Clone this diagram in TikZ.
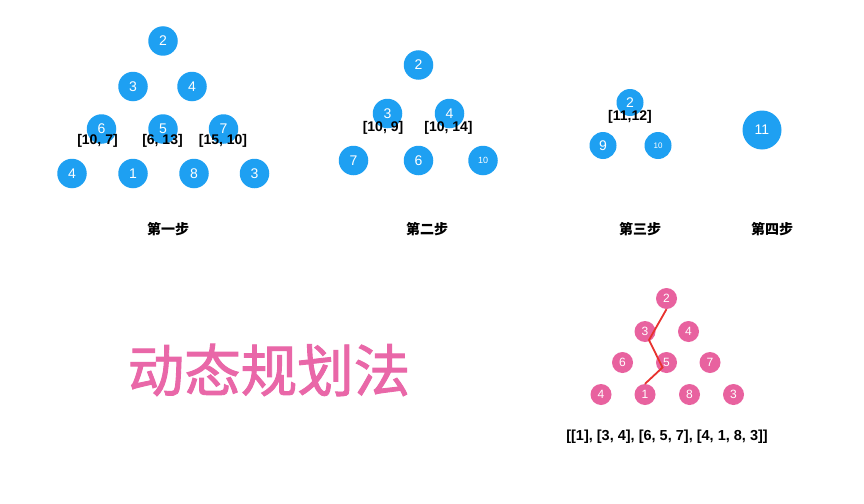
\documentclass[tikz,border=0pt]{standalone}
\usepackage{fontspec}
\setmainfont{Liberation Sans}
\newfontfamily\cjk{Noto Sans CJK SC}
\newfontfamily\cjkt[FakeBold=1.6]{Noto Sans CJK SC}
\definecolor{bblue}{HTML}{1EA0F2}
\definecolor{ppink}{HTML}{E8629F}
\definecolor{tpink}{HTML}{E967A8}
\definecolor{lred}{HTML}{E8322E}
\begin{document}
\begin{tikzpicture}[x=1pt,y=-1pt,
  bn/.style={circle,fill=bblue,draw=none,minimum size=29.5pt,inner sep=0pt,text=white,font=\fontsize{14}{14}\selectfont},
  bs/.style={bn,minimum size=27pt},
  pn/.style={circle,fill=ppink,draw=none,minimum size=21pt,inner sep=0pt,text=white,font=\fontsize{12}{12}\selectfont},
  lab/.style={font=\bfseries\fontsize{14}{14}\selectfont,inner sep=0pt},
  steplab/.style={font=\cjk\bfseries\fontsize{14}{14}\selectfont,inner sep=0pt},
  path/.style={draw=lred,line width=1.8pt}]
\useasboundingbox (0,0) rectangle (864,503);
\fill[white] (0,0) rectangle (864,503);
% panel 1
\node[bn] (a1) at (163,41) {2};
\node[bn] (a2) at (133,86.5) {3};
\node[bn] (a3) at (192,86.5) {4};
\node[bn] (a4) at (101.5,129) {6};
\node[bn] (a5) at (163,129) {5};
\node[bn] (a6) at (223.5,129) {7};
\node[bn] (a7) at (72,173.5) {4};
\node[bn] (a8) at (133,173.5) {1};
\node[bn] (a9) at (194,173.5) {8};
\node[bn] (a10) at (254.5,173.5) {3};
\node[lab] (l1) at (97.5,140.5) {[10, 7]};
\node[lab] (l2) at (162.5,140.5) {[6, 13]};
\node[lab] (l3) at (223,140.5) {[15, 10]};
\node[steplab] (s1) at (168,229) {第一步};
% panel 2
\node[bn] (b1) at (418.5,65) {2};
\node[bn] (b2) at (387.5,113.5) {3};
\node[bn] (b3) at (449.5,113.5) {4};
\node[lab] (l4) at (383,127.5) {[10, 9]};
\node[lab] (l5) at (448.5,127.5) {[10, 14]};
\node[bn] (b4) at (353.5,160.5) {7};
\node[bn] (b5) at (418.5,160.5) {6};
\node[bn,font=\fontsize{9}{9}\selectfont] (b6) at (483,160.5) {10};
\node[steplab] (s2) at (427,229) {第二步};
% panel 3
\node[bs] (c1) at (630,102.5) {2};
\node[lab] (l6) at (630,116.5) {[11,12]};
\node[bs] (c2) at (603,145.5) {9};
\node[bs,font=\fontsize{8}{8}\selectfont] (c3) at (658,145.5) {10};
\node[steplab] (s3) at (640,229) {第三步};
% panel 4
\node[bn,minimum size=39pt] (d1) at (762,130) {11};
\node[steplab] (s4) at (772,229) {第四步};
% title
\node[font=\cjkt\fontsize{56.5}{56.5}\selectfont,text=tpink,inner sep=0pt] (t) at (269,370) {动态规划法};
% pink triangle
\node[pn] (p1) at (666.5,298.5) {2};
\node[pn] (p2) at (645,331.5) {3};
\node[pn] (p3) at (688.5,331.5) {4};
\node[pn] (p4) at (622.5,362.5) {6};
\node[pn] (p5) at (666.5,362.5) {5};
\node[pn] (p6) at (710,362.5) {7};
\node[pn] (p7) at (601,394.5) {4};
\node[pn] (p8) at (645,394.5) {1};
\node[pn] (p9) at (689.5,394.5) {8};
\node[pn] (p10) at (733.5,394.5) {3};
\coordinate (r1) at (649,340);
\coordinate (r2) at (662.5,367.5);
\draw[path] (p1.south) -- (r1) -- (r2) -- (p8.north);
\node[lab,font=\bfseries\fontsize{14.5}{14.5}\selectfont] (arr) at (667,437) {[[1], [3, 4], [6, 5, 7], [4, 1, 8, 3]]};
\end{tikzpicture}
\end{document}
